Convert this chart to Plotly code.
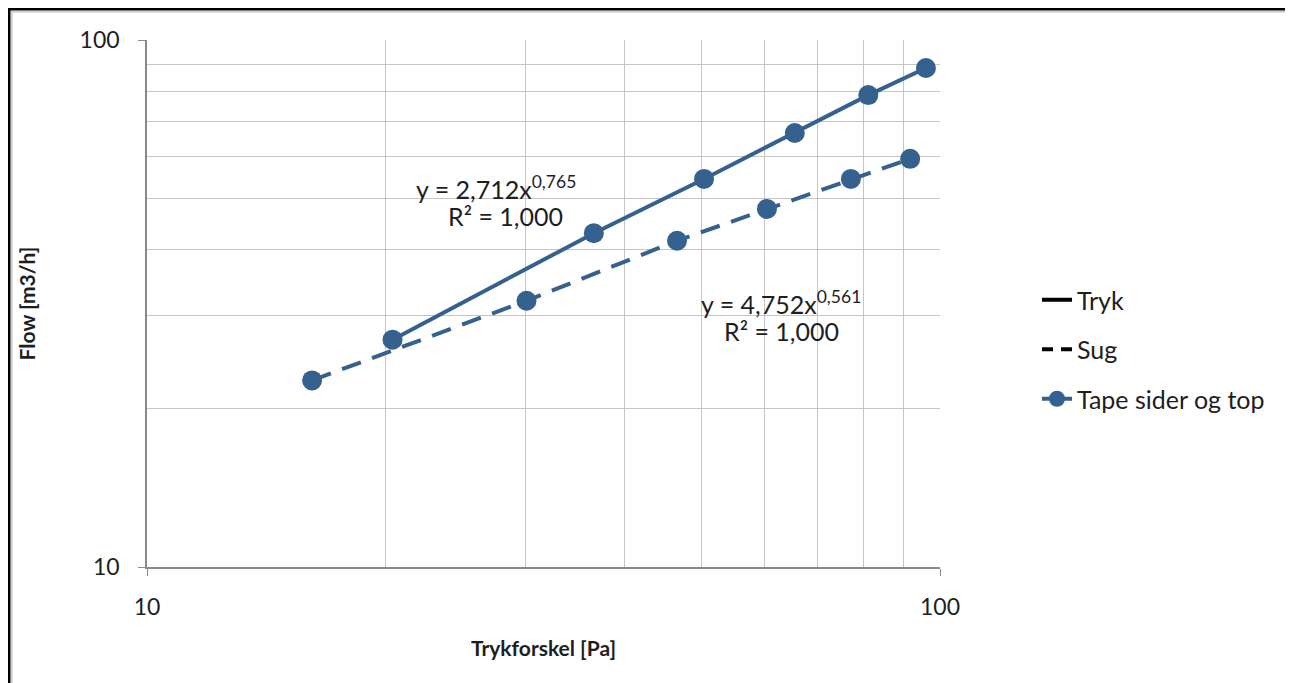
import plotly.graph_objects as go

# Data (log-log)
tryk_x = [20.4, 36.6, 50.4, 65.6, 81.2, 96.0]
tryk_y = [27.0, 43.0, 54.5, 66.6, 78.6, 88.5]
sug_x = [16.15, 30.1, 46.6, 60.5, 77.2, 91.7]
sug_y = [22.6, 32.0, 41.6, 47.8, 54.5, 59.5]

series_names = ["Tryk", "Sug", "Tape sider og top"]
eq_tryk = "y = 2,712x<sup>0,765</sup>"
eq_sug = "y = 4,752x<sup>0,561</sup>"
r2_text = "R² = 1,000"

BLUE = "#35618f"
FONT = "Lato"
TXT = "#1e1e1e"

OFF = 8  # page body margin
W, H = 1293 - OFF, 683 - OFF
# plot area in page pixels
L, R, T, B = 147, 940, 40, 567


def px(xp):
    return (xp - L) / (R - L)


def py(yp):
    return (B - yp) / (B - T)


fig = go.Figure()

# legend-only style entries
fig.add_trace(go.Scatter(x=[None], y=[None], mode="lines", name=series_names[0],
                         legendgroup="a", line=dict(color="black", width=4)))
fig.add_trace(go.Scatter(x=[None], y=[None], mode="lines", name=series_names[1],
                         legendgroup="b", line=dict(color="black", width=4, dash="11px,8px")))
# data
fig.add_trace(go.Scatter(x=tryk_x, y=tryk_y, mode="lines+markers", name=series_names[2],
                         legendgroup="c",
                         line=dict(color=BLUE, width=4),
                         marker=dict(color=BLUE, size=20)))
fig.add_trace(go.Scatter(x=sug_x, y=sug_y, mode="lines+markers", name=series_names[1] + " data",
                         showlegend=False, legendgroup="c",
                         line=dict(color=BLUE, width=4, dash="20px,12px"),
                         marker=dict(color=BLUE, size=20)))

minor_vals = [20, 30, 40, 50, 60, 70, 80, 90]
axis_common = dict(
    type="log", range=[1, 2],
    tickvals=[10, 100], ticktext=["10", "100"],
    showgrid=True, gridcolor="#c6c6c6", gridwidth=1.3,
    minor=dict(tickvals=minor_vals, showgrid=True, gridcolor="#c6c6c6", gridwidth=1.3, ticks=""),
    showline=True, linecolor="#8a8a8a", linewidth=1.5,
    ticks="outside", ticklen=7, tickcolor="#8a8a8a",
    tickfont=dict(family=FONT, size=23, color=TXT),
    zeroline=False,
)

fig.update_xaxes(**axis_common, ticklabelstandoff=12,
                 title=dict(text="<b>Trykforskel [Pa]</b>", font=dict(family=FONT, size=21, color=TXT),
                            standoff=22))
fig.update_yaxes(**axis_common, ticklabelstandoff=14,
                 title=dict(text="<b>Flow [m3/h]</b>", font=dict(family=FONT, size=21, color=TXT),
                            standoff=38))

annos = [
    dict(x=px(496), y=py(187), text=eq_tryk),
    dict(x=px(505), y=py(216), text=r2_text),
    dict(x=px(781), y=py(302), text=eq_sug),
    dict(x=px(781), y=py(331), text=r2_text),
]
for a in annos:
    fig.add_annotation(x=a["x"], y=a["y"], xref="paper", yref="paper", text=a["text"],
                       showarrow=False, xanchor="center", yanchor="middle",
                       font=dict(family=FONT, size=25, color=TXT))

# outer frame lines (top and left), page pixel positions
shapes = [
    dict(type="line", xref="paper", yref="paper", x0=px(8), x1=px(1293), y0=py(9), y1=py(9),
         line=dict(color="black", width=3)),
    dict(type="line", xref="paper", yref="paper", x0=px(11), x1=px(1293), y0=py(11.8), y1=py(11.8),
         line=dict(color="#c8c8c8", width=1.5)),
    dict(type="line", xref="paper", yref="paper", x0=px(9), x1=px(9), y0=py(8), y1=py(683),
         line=dict(color="black", width=3)),
    dict(type="line", xref="paper", yref="paper", x0=px(11.8), x1=px(11.8), y0=py(11), y1=py(683),
         line=dict(color="#c8c8c8", width=1.5)),
]

fig.update_layout(
    width=W, height=H,
    margin=dict(l=L - OFF, r=W - (R - OFF), t=T - OFF, b=H - (B - OFF), autoexpand=False),
    paper_bgcolor="white", plot_bgcolor="white",
    showlegend=True,
    legend=dict(x=px(1037), y=py(277), xanchor="left", yanchor="top",
                font=dict(family=FONT, size=25, color=TXT), traceorder="grouped",
                bgcolor="rgba(0,0,0,0)", tracegroupgap=14, itemwidth=30),
    shapes=shapes,
)

fig.write_html("out.html")
